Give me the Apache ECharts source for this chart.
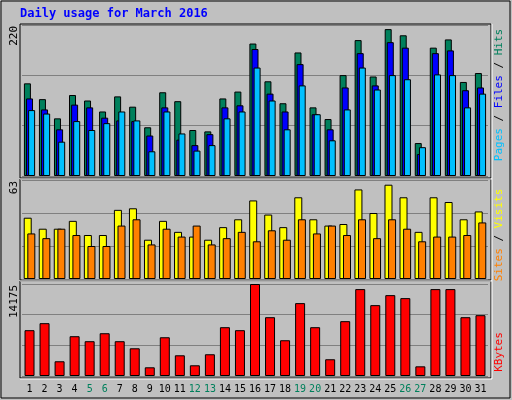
<!DOCTYPE html><html><head><meta charset="utf-8">
<script src="https://cdn.jsdelivr.net/npm/echarts@6/dist/echarts.min.js"></script>
<style>html,body{margin:0;padding:0;background:#c0c0c0}#c{width:512px;height:400px}</style></head><body><div id="c"></div>
<script>
const days=['1','2','3','4','5','6','7','8','9','10','11','12','13','14','15','16','17','18','19','20','21','22','23','24','25','26','27','28','29','30','31'];
const weekend=['5','6','12','13','19','20','26','27'];
const hits=[135,112,84,118,110,94,116,101,71,122,109,67,65,113,123,193,138,106,180,100,83,147,198,145,214,205,48,187,199,137,150];
const files=[113,97,68,104,100,85,81,80,59,100,53,45,61,100,103,185,120,94,163,90,68,129,179,132,195,187,32,179,183,125,129];
const pages=[96,91,50,80,67,77,94,81,36,94,62,37,45,84,94,158,110,68,132,90,52,97,158,126,147,141,42,148,147,100,120];
const visits=[39,32,32,37,28,28,44,45,25,37,30,27,25,33,38,50,41,33,52,38,34,35,57,42,60,52,30,52,49,38,43];
const sites=[29,26,32,28,21,21,34,38,22,32,27,34,22,26,30,24,31,25,38,29,34,28,38,26,38,32,24,27,27,28,36];
const kbytes=[7060,8140,2270,6130,5360,6590,5360,4270,1340,5970,3190,1650,3350,7520,7060,14175,9060,5510,11230,7520,2580,8450,13390,10920,12460,12000,1490,13390,13390,9060,9370];
const tickLabels=['220','63','14175'];
const maxes=[220,63,14175];
const ch=echarts.init(document.getElementById('c'));
const F='DejaVu Sans Mono';
const grids=[{left:22,right:24,top:25,height:151},{left:22,right:24,top:180,height:99},{left:22,right:24,top:284,height:92}];
const xA=grids.map((g,i)=>({type:'category',gridIndex:i,data:days,boundaryGap:true,axisLine:{show:false},axisTick:{show:false},
 axisLabel:i==2?{show:true,interval:0,fontFamily:F,fontSize:10,margin:8,color:(v)=>weekend.includes(v)?'#00805c':'#000'}:{show:false}}));
const yA=maxes.map((m,i)=>({type:'value',gridIndex:i,min:0,max:m,interval:m/3,axisLabel:{show:false},axisLine:{show:false},axisTick:{show:false},splitLine:{lineStyle:{color:'#808080',width:1}}}));
const bs=(name,d,c,gi,w,gap)=>({type:'bar',name,data:d,xAxisIndex:gi,yAxisIndex:gi,barWidth:w,barGap:gap,itemStyle:{color:c,borderColor:'#000',borderWidth:1},animation:false});
const frames=[[20,24,471,154],[20,179,471,101],[20,281,471,97]];
const g=[{type:'rect',shape:{x:1,y:1,width:509,height:397},style:{fill:'none',stroke:'#000',lineWidth:1}}];
frames.forEach(f=>{
 g.push({type:'rect',shape:{x:f[0],y:f[1],width:f[2],height:f[3]},style:{fill:'none',stroke:'#000',lineWidth:1},z:-1});
 g.push({type:'polyline',shape:{points:[[f[0]+f[2]+1,f[1]],[f[0]+f[2]+1,f[1]+f[3]+1],[f[0],f[1]+f[3]+1]]},style:{fill:null,stroke:'#fff',lineWidth:1}});
});
g.push({type:'text',left:20,top:8,style:{text:'Daily usage for March 2016',fill:'#0000ff',font:'bold 12px "'+F+'"'}});
[[26],[181],[285]].forEach((p,i)=>g.push({type:'text',x:9,y:p[0],rotation:Math.PI/2,style:{text:tickLabels[i],fill:'#000',font:'11px "'+F+'"',align:'right',verticalAlign:'top'}}));
const rt=(x,y,rich,parts)=>({type:'text',x,y,rotation:Math.PI/2,style:{text:parts,rich,font:'11px "'+F+'"',align:'center',verticalAlign:'middle'}});
g.push(rt(499,95,{p:{fill:'#00c0ff'},f:{fill:'#0000ff'},h:{fill:'#00805c'},s:{fill:'#000'}},'{p|Pages}{s| / }{f|Files}{s| / }{h|Hits}'));
g.push(rt(499,235,{a:{fill:'#ff8000'},b:{fill:'#ffff00'},s:{fill:'#000'}},'{a|Sites}{s| / }{b|Visits}'));
g.push(rt(499,352,{k:{fill:'#ff0000'}},'{k|KBytes}'));
ch.setOption({animation:false,backgroundColor:'#c0c0c0',grid:grids,xAxis:xA,yAxis:yA,graphic:g,
 series:[bs('Hits',hits,'#00805c',0,7,'-70%'),bs('Files',files,'#0000ff',0,7,'-70%'),bs('Pages',pages,'#00c0ff',0,7,'-70%'),
 bs('Visits',visits,'#ffff00',1,8,'-55%'),bs('Sites',sites,'#ff8000',1,8,'-55%'),
 bs('KBytes',kbytes,'#ff0000',2,10,'0%')]});
</script></body></html>
